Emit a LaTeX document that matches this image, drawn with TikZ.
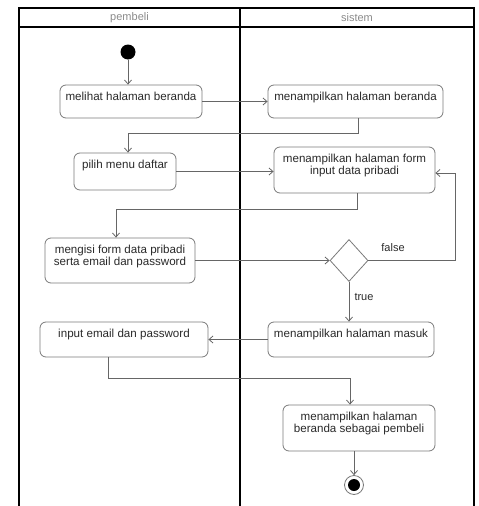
\documentclass[tikz,border=0pt]{standalone}
\usepackage{fontspec}
\setmainfont{Liberation Sans}
\usetikzlibrary{arrows.meta,shapes.geometric}

\definecolor{edgegray}{HTML}{666666}
\definecolor{boxgray}{HTML}{7A7A7A}
\definecolor{txtdark}{HTML}{2A2A2A}
\definecolor{headgray}{HTML}{8A8A8A}

\tikzset{
  lane/.style={draw=black, line width=1.6pt},
  actbox/.style={draw=boxgray, line width=0.8pt, rounded corners=6pt, fill=white,
                 inner sep=0pt},
  lbl/.style={anchor=north, inner sep=0pt, yshift=-7pt, align=center,
              font=\fontsize{11.6}{12.6}\selectfont, text=txtdark},
  flow/.style={draw=edgegray, line width=0.8pt,
               -{Straight Barb[length=4pt,width=7pt]}},
  guard/.style={font=\fontsize{11}{12}\selectfont, text=txtdark, inner sep=1pt},
  head/.style={font=\fontsize{11}{12}\selectfont, text=headgray, inner sep=0pt},
}

\begin{document}
\begin{tikzpicture}[x=1pt, y=-1pt]
  \useasboundingbox (0,0) rectangle (479,506);

  % swimlanes
  \draw[lane] (19,506) -- (19,8) -- (474,8) -- (474,506);
  \draw[lane] (19,27) -- (474,27);
  \draw[lane] (240,8) -- (240,506);
  \node[head] (hpembeli) at (129.5,17.5) {pembeli};
  \node[head] (hsistem) at (357,17.5) {sistem};

  % initial node
  \node[circle, fill=black, minimum size=15pt, inner sep=0pt] (start) at (128,52) {};

  % activities
  \node[actbox, minimum width=142pt, minimum height=33pt,
        label={[lbl]north:{melihat halaman beranda}}] (b1) at (131,101.5) {};
  \node[actbox, minimum width=175pt, minimum height=33pt,
        label={[lbl]north:{menampilkan halaman beranda}}] (b2) at (355.5,101.5) {};
  \node[actbox, minimum width=102pt, minimum height=37pt,
        label={[lbl]north:{pilih menu daftar}}] (b3) at (125,171.5) {};
  \node[actbox, minimum width=161pt, minimum height=46pt,
        label={[lbl]north:{menampilkan halaman form\\input data pribadi}}] (b4) at (354.5,170) {};
  \node[actbox, minimum width=150pt, minimum height=45pt,
        label={[lbl]north:{mengisi form data pribadi\\serta email dan password}}] (b5) at (120,260.5) {};
  \node[diamond, draw=boxgray, line width=0.8pt, fill=white, inner sep=0pt,
        minimum width=38pt, minimum height=42pt] (dec) at (349,260.5) {};
  \node[actbox, minimum width=166pt, minimum height=35pt,
        label={[lbl]north:{menampilkan halaman masuk}}] (b6) at (351,339.5) {};
  \node[actbox, minimum width=168pt, minimum height=35pt,
        label={[lbl]north:{input email dan password}}] (b7) at (124,339.5) {};
  \node[actbox, minimum width=152pt, minimum height=46pt,
        label={[lbl]north:{menampilkan halaman\\beranda sebagai pembeli}}] (b8) at (359,428) {};

  % final node
  \node[circle, draw=boxgray, line width=0.8pt, fill=white, minimum size=19pt, inner sep=0pt] (stop) at (354,485) {};
  \node[circle, fill=black, minimum size=12pt, inner sep=0pt] (stopdot) at (stop) {};

  % guard labels
  \node[guard] (lfalse) at (393,248) {false};
  \node[guard] (ltrue) at (364,297) {true};

  % bends of the routed flows
  \coordinate (fx) at (455,260.5);

  % control flows
  \draw[flow] (start) -- (start |- b1.north);
  \draw[flow] (b1.east) -- (b2.west);
  \draw[flow] ([xshift=3pt]b2.south) -- ++(0,15) -| ([xshift=3pt]b3.north);
  \draw[flow] (b3.east) -- (b3.east -| b4.west);
  \draw[flow] ([xshift=3pt]b4.south) -- ++(0,16) -| ([xshift=-4pt]b5.north);
  \draw[flow] (b5.east |- dec.west) -- (dec.west);
  \draw[flow] (dec.east) -- (fx) |- ([yshift=-3pt]b4.east);
  \draw[flow] (dec.south) -- (dec.south |- b6.north);
  \draw[flow] (b6.west) -- (b6.west -| b7.east);
  \draw[flow] ([xshift=-16pt]b7.south) -- ++(0,20.5) -| ([xshift=-9pt]b8.north);
  \draw[flow] (b8.south -| stop) -- (stop.north);
\end{tikzpicture}
\end{document}
